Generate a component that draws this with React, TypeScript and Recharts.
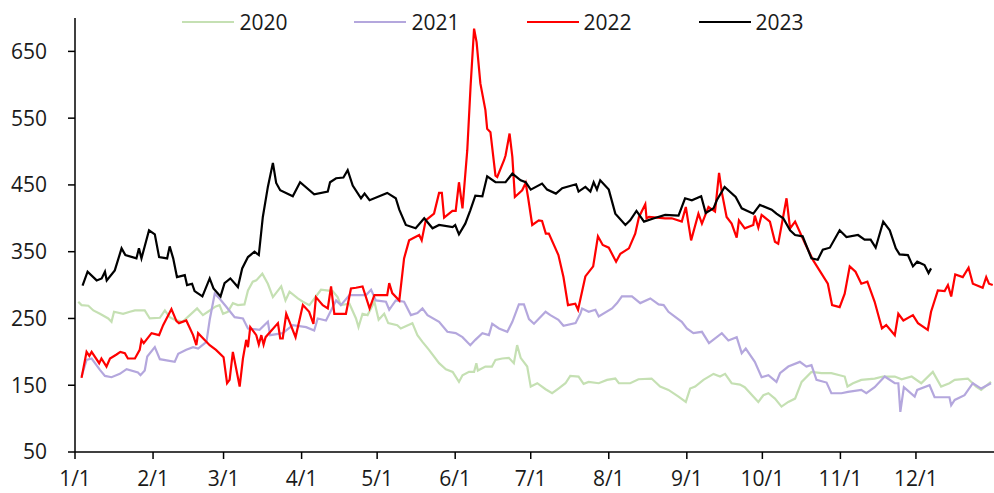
import { Line, LineChart, XAxis, YAxis } from 'recharts';

// day of year -> price
const s2020: [number, number][] = [
  [1.3, 275], [2.6, 270], [5.3, 269], [7.3, 262], [9.9, 257], [13.2, 250], [14.5, 245], [15.5, 260], [19.1, 257], [21.8, 260],
  [23.8, 262], [27.7, 262], [29.7, 250], [33.7, 251], [35.7, 262], [37.6, 252], [39.6, 248], [42.7, 245], [45.6, 255], [48.5, 265],
  [50.8, 255], [52.8, 260], [55.9, 268], [57.4, 270], [58.8, 257], [60.7, 260], [62.7, 273], [64.7, 270], [67.3, 271], [68.7, 292],
  [70.6, 305], [72, 307], [74.4, 317], [76.6, 302], [78.6, 282], [81.9, 298], [83.6, 277], [85.2, 290], [88.5, 280], [90.5, 275],
  [93.1, 270], [97.7, 293], [102.3, 291], [104.3, 282], [105.6, 270], [109, 272], [111.6, 250], [112.6, 237], [114.2, 257], [116.2, 255],
  [118.9, 275], [120.6, 248], [122.8, 257], [124.4, 243], [128, 240], [129.4, 235], [134, 243], [136, 225], [138, 215], [140.6, 203],
  [144.6, 183], [147.3, 174], [150, 170], [152.5, 155], [153.9, 165], [156.5, 170], [158.5, 170], [159.4, 183], [160, 172], [163, 178],
  [165.6, 178], [167, 188], [169.7, 190], [172.3, 191], [174.3, 183], [175.6, 210], [177, 191], [179.6, 178], [181, 148], [183.6, 153],
  [186.9, 144], [189.5, 138], [192, 145], [194.8, 153], [196.7, 164], [200, 163], [202, 152], [204, 155], [208, 153], [211.3, 158],
  [214.6, 160], [216, 153], [220.5, 153], [223.8, 159], [229, 160], [232.4, 148], [235.7, 143], [239.7, 133], [242.6, 125], [244.3, 145],
  [246.3, 148], [249.6, 158], [253.6, 167], [256.2, 163], [258.2, 167], [260.8, 153], [264.1, 151], [266, 147], [271.4, 125], [273.4, 135],
  [275.4, 138], [278, 130], [280.6, 118], [283.3, 125], [286, 130], [288.6, 155], [292.5, 170], [296.5, 168], [300.4, 168], [303.7, 165],
  [305.7, 163], [306.8, 148], [309, 153], [312.3, 158], [317.6, 160], [320.9, 163], [325.6, 163], [328.3, 159], [332.3, 163], [336.1, 153],
  [340.7, 170], [344, 148], [347.3, 153], [349.4, 158], [354.6, 160], [357.9, 148], [359.9, 143], [363.8, 155],
];

const s2021: [number, number][] = [
  [2.6, 163], [4.6, 188], [6.6, 190], [9.9, 173], [11.9, 164], [14.5, 162], [17.8, 167], [20.5, 174], [25, 169], [26, 165],
  [27.7, 172], [28.7, 193], [31.7, 207], [33.7, 189], [39.6, 185], [41, 197], [44.2, 203], [46.9, 207], [48.9, 205], [52.2, 215],
  [53.5, 248], [55.5, 287], [57.4, 280], [60, 268], [63.4, 252], [66.7, 250], [68.7, 235], [73.3, 233], [76.6, 245], [77.5, 225],
  [82.5, 228], [86.5, 240], [91.8, 237], [95, 232], [96.4, 250], [99.7, 247], [103.7, 277], [105.6, 270], [109, 285], [115.6, 285],
  [117.6, 293], [119.5, 277], [123.5, 275], [124.8, 263], [127.4, 277], [130.7, 275], [133.4, 255], [136, 258], [138, 265], [140, 255],
  [144.6, 245], [147.9, 230], [151.2, 228], [153.9, 222], [157, 210], [159, 218], [161.8, 228], [164.4, 225], [165.7, 242], [168.4, 235],
  [171.7, 230], [173.7, 245], [176.3, 271], [178.3, 271], [180.3, 249], [182.3, 242], [186.9, 260], [188.8, 255], [192, 248], [194, 239],
  [198.8, 243], [200.7, 257], [201.4, 265], [204, 260], [206.7, 263], [208, 253], [213.3, 265], [215.3, 273], [217.2, 283], [221.2, 283],
  [224.5, 273], [228.5, 280], [231.8, 271], [233.8, 270], [235.7, 260], [241, 245], [243, 235], [245.6, 228], [249, 230], [251.8, 213],
  [256.9, 228], [259.5, 217], [262.8, 222], [264.8, 198], [266.4, 205], [270, 185], [272.7, 162], [275.4, 165], [278.6, 155], [280, 168],
  [283.3, 178], [287.9, 185], [290.5, 178], [292.5, 180], [294.5, 158], [298.5, 154], [300.4, 138], [304.4, 138], [307, 140], [312.3, 143],
  [314.3, 138], [317.6, 147], [321.6, 163], [325.6, 153], [327, 153], [327.8, 110], [329.2, 147], [333.5, 133], [334.5, 143], [339.4, 150],
  [341.4, 132], [347.3, 132], [348, 120], [349.4, 128], [353.3, 135], [356.6, 153], [359.9, 145], [363.8, 153],
];

const s2022: [number, number][] = [
  [2.6, 161], [4.6, 200], [5.7, 194], [6.6, 200], [9.6, 183], [10.5, 190], [12.5, 178], [13.9, 190], [16.5, 196], [18, 200],
  [19.8, 198], [21, 190], [23.8, 190], [25.7, 203], [26.4, 218], [27.3, 213], [30.4, 228], [33.4, 225], [35, 240], [38.3, 264],
  [40.3, 246], [41.3, 243], [44.2, 247], [46.9, 225], [48.2, 210], [48.9, 228], [53.5, 210], [56, 203], [59, 192], [60.4, 153],
  [61.4, 158], [62.7, 200], [65.4, 148], [66.7, 190], [68, 218], [68.7, 207], [69.6, 237], [72, 225], [73, 211], [74, 225],
  [74.9, 211], [75.7, 222], [80.6, 243], [81.5, 220], [82.5, 220], [83.9, 257], [85.2, 245], [87.6, 222], [90.5, 270], [93, 260],
  [94.7, 242], [95.7, 282], [98.4, 270], [100.4, 265], [101.7, 298], [103, 257], [107.6, 257], [109.6, 295], [111.6, 296], [114.2, 298],
  [117, 265], [118.9, 285], [124, 285], [124.8, 303], [126, 288], [128.8, 277], [130.7, 340], [132.7, 367], [136.7, 375], [137.7, 367],
  [139.3, 397], [142.6, 407], [144.6, 438], [145.7, 438], [146.6, 401], [149.9, 411], [151.2, 411], [152.5, 454], [153.9, 415], [155.8, 502],
  [157.1, 597], [158.5, 684], [159.5, 664], [161, 602], [163, 562], [163.7, 534], [165, 529], [167, 464], [167.7, 462], [170.4, 487],
  [171, 494], [172.6, 527], [173.7, 492], [174.7, 432], [177.6, 442], [179, 453], [180, 430], [181.6, 390], [184.2, 397], [185.5, 396],
  [187, 377], [188.2, 377], [192, 345], [194, 312], [195.8, 270], [198.7, 272], [199.8, 263], [202.7, 313], [205.8, 328], [207.7, 373],
  [209.6, 360], [212, 356], [214.9, 335], [216.6, 347], [220, 355], [222.5, 377], [224, 402], [226.5, 421], [227, 400], [228, 402],
  [234.4, 400], [237, 400], [241, 395], [242.6, 417], [244.7, 367], [247.6, 407], [249, 392], [251.6, 417], [254.2, 410], [255.8, 468],
  [257, 437], [258.8, 402], [260.8, 392], [262.8, 371], [263.7, 397], [266, 385], [269.4, 390], [270, 404], [271.4, 386], [272.7, 405],
  [276, 395], [278, 365], [279.3, 362], [282.6, 430], [284, 385], [286, 395], [290, 362], [293.2, 337], [299, 302], [300.7, 270],
  [303.7, 267], [305.7, 287], [307.7, 328], [310, 320], [312.3, 302], [314.7, 305], [317.6, 275], [320.5, 235], [322.2, 240], [325.6, 225],
  [327, 257], [329, 247], [332.8, 255], [334.8, 243], [338.7, 233], [340, 260], [342.7, 292], [345.4, 291], [346.7, 300], [348, 283],
  [349.6, 316], [352.6, 312], [354.9, 326], [356.6, 302], [360.5, 296], [361.9, 312], [363, 302], [364.5, 300],
];

const s2023: [number, number][] = [
  [3, 299], [5, 320], [8.6, 307], [10.6, 310], [11.9, 320], [12.6, 307], [15.8, 322], [18.5, 355], [20, 345], [24.4, 340],
  [25.4, 355], [26.4, 340], [29.4, 382], [31.7, 376], [33.4, 342], [36.6, 340], [37.6, 358], [39, 340], [40.5, 312], [43.6, 315],
  [44.5, 300], [46.5, 302], [47.5, 291], [50.6, 283], [53.5, 310], [55, 295], [57.8, 283], [59.4, 303], [61.7, 310], [64.7, 297],
  [66.4, 325], [68.7, 342], [71.3, 350], [73, 345], [74.6, 402], [76.6, 447], [78.6, 483], [79.9, 453], [81.5, 442], [86.5, 433],
  [89.4, 454], [95, 436], [100.4, 440], [101.3, 454], [103.7, 460], [106.6, 461], [108.3, 472], [110.3, 449], [113.6, 430], [115, 437],
  [117, 427], [124, 438], [127.4, 430], [128.8, 413], [131.4, 390], [135.3, 385], [138.7, 400], [142, 385], [144.6, 390], [150, 387],
  [151, 390], [152.5, 376], [155, 392], [157, 412], [159, 434], [161.8, 433], [163.7, 463], [167, 454], [171, 454], [173.7, 467],
  [177, 457], [179, 454], [181, 443], [185.5, 452], [187.5, 443], [191, 437], [193.5, 445], [199, 451], [200, 440], [202.7, 447],
  [204.7, 440], [206, 454], [207.3, 443], [208.6, 457], [212, 443], [214.6, 407], [218.6, 390], [220.5, 397], [223, 411], [226, 395],
  [230, 400], [234.4, 405], [239.7, 404], [242.3, 430], [245, 427], [248.7, 433], [250.5, 408], [253.6, 415], [254.9, 427], [258, 447],
  [262.4, 432], [264.8, 415], [269.4, 407], [272, 420], [276.7, 413], [278.6, 407], [281.3, 400], [284, 382], [286, 375], [289, 373],
  [292.5, 340], [295, 338], [297, 353], [299.8, 356], [303.7, 382], [306.4, 372], [311, 375], [313.6, 368], [316, 368], [318, 356],
  [321, 395], [323.6, 382], [326, 355], [327.5, 346], [330.8, 345], [332.8, 328], [334.5, 335], [337.4, 330], [339, 318], [340, 325],
];

const monthTicks = [0, 31, 59, 90, 120, 151, 181, 212, 243, 273, 304, 334];
const monthLabels = ['1/1', '2/1', '3/1', '4/1', '5/1', '6/1', '7/1', '8/1', '9/1', '10/1', '11/1', '12/1'];
const yTicks = [50, 150, 250, 350, 450, 550, 650];

const series = [
  { name: '2020', color: '#c5e0b3', points: s2020 },
  { name: '2021', color: '#b4a7dd', points: s2021 },
  { name: '2022', color: '#ff0000', points: s2022 },
  { name: '2023', color: '#000000', points: s2023 },
];

const FONT = '"Open Sans", "Noto Sans", sans-serif';
const tickStyle = { fontSize: 21, fill: '#1a1a1a', fontFamily: FONT };

export default function App() {
  return (
    <div style={{ position: 'absolute', left: 0, top: 0, width: 994, height: 493, background: '#fff' }}>
      <LineChart width={994} height={493} margin={{ top: 18, right: 0, left: 0, bottom: 0 }}>
        <XAxis
          dataKey="day"
          type="number"
          domain={[0, 365]}
          ticks={monthTicks}
          tickFormatter={(d: number) => monthLabels[monthTicks.indexOf(d)] ?? ''}
          allowDataOverflow
          height={41}
          tick={tickStyle}
          tickSize={7}
          tickMargin={12}
          axisLine={{ stroke: '#000', strokeWidth: 1.5 }}
          tickLine={{ stroke: '#000', strokeWidth: 1.5 }}
          interval={0}
        />
        <YAxis
          type="number"
          domain={[50, 700]}
          ticks={yTicks}
          width={75}
          tick={tickStyle}
          tickSize={7}
          tickMargin={21}
          axisLine={{ stroke: '#000', strokeWidth: 1.5 }}
          tickLine={{ stroke: '#000', strokeWidth: 1.5 }}
          interval={0}
        />
        {series.map((s) => (
          <Line
            key={s.name}
            name={s.name}
            data={s.points.map(([day, v]) => ({ day, v }))}
            dataKey="v"
            type="linear"
            stroke={s.color}
            strokeWidth={2.2}
            dot={false}
            isAnimationActive={false}
          />
        ))}
      </LineChart>
      <div
        style={{
          position: 'absolute',
          top: 6,
          left: -4,
          width: 994,
          display: 'flex',
          justifyContent: 'center',
          gap: 67,
          fontFamily: FONT,
          fontSize: 21,
          color: '#1a1a1a',
          lineHeight: '32px',
        }}
      >
        {series.map((s) => (
          <div key={s.name} style={{ display: 'flex', alignItems: 'center' }}>
            <span style={{ display: 'inline-block', width: 52, height: 2.5, background: s.color, marginRight: 5 }} />
            <span>{s.name}</span>
          </div>
        ))}
      </div>
    </div>
  );
}
